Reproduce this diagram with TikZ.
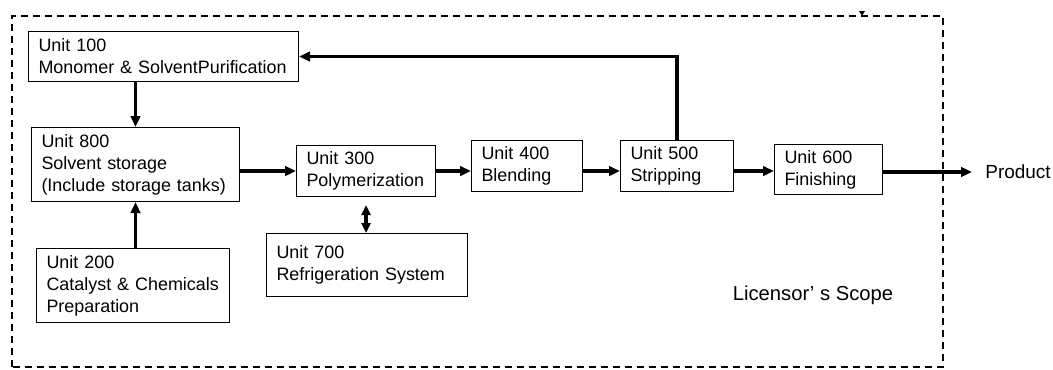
\documentclass[tikz,border=0pt]{standalone}
\usepackage{fontspec}
\setmainfont{Liberation Sans}
\usetikzlibrary{arrows.meta, positioning}
\tikzset{
  unit/.style = {draw=black, anchor=north west, align=left, inner xsep=0.2cm,
    inner ysep=0pt, line width=0.6pt, font=\fontsize{10.2}{12.5}\selectfont},
  lbl/.style = {font=\fontsize{10.8}{13}\selectfont, inner sep=0pt},
  flow/.style = {-{Triangle[length=0.22cm, width=0.19cm]}, line width=1.8pt},
  flowb/.style = {{Triangle[length=0.2cm, width=0.18cm]}-{Triangle[length=0.2cm, width=0.18cm]},
    line width=1.8pt},
  lic/.style = {draw=black, line width=0.6pt, dash pattern=on 0.14cm off 0.1cm}
}
\begin{document}
\begin{tikzpicture}
  \path[use as bounding box, fill=white] (0,0) rectangle (21.06,7.38);
  % licensor's scope border
  \draw[lic] (0.24,0.04) rectangle (18.86,7.06);
  \fill (17.18,7.16) -- (17.30,7.16) -- (17.24,7.06) -- cycle;

  \node[unit, text width=5.00cm, minimum height=1.00cm] (u100) at (0.56,6.76)
    {Unit 100\\Monomer \& SolventPurification};
  \node[unit, text width=3.76cm, minimum height=1.48cm] (u800) at (0.62,4.84)
    {Unit 800\\Solvent storage\\(Include storage tanks)};
  \node[unit, text width=3.46cm, minimum height=1.48cm] (u200) at (0.72,2.42)
    {Unit 200\\Catalyst \& Chemicals\\Preparation};
  \node[unit, text width=2.38cm, minimum height=1.02cm] (u300) at (5.92,4.48)
    {Unit 300\\Polymerization};
  \node[unit, text width=3.62cm, minimum height=1.26cm] (u700) at (5.32,2.72)
    {Unit 700\\Refrigeration System};
  \node[unit, text width=1.82cm, minimum height=1.02cm] (u400) at (9.42,4.58)
    {Unit 400\\Blending};
  \node[unit, text width=1.86cm, minimum height=1.02cm] (u500) at (12.40,4.58)
    {Unit 500\\Stripping};
  \node[unit, text width=1.76cm, minimum height=1.00cm] (u600) at (15.48,4.50)
    {Unit 600\\Finishing};
  \node[lbl, anchor=west, inner xsep=0.26cm] (prod) at (19.44,3.94) {Product};
  \node[lbl, font=\fontsize{11.5}{14}\selectfont] (scope) at (16.26,1.48) {Licensor’ s Scope};

  \draw[flow] (u100.south -| u800.north) -- (u800.north);
  \draw[flow] (u200.north -| u800.south) -- (u800.south);
  \draw[flow] (u800.east |- u300.west) -- (u300.west);
  \draw[flow] (u300.east) -- (u300.east -| u400.west);
  \draw[flow] (u400.east |- u300.east) -- (u500.west |- u300.east);
  \draw[flow] (u500.east |- u300.east) -- (u600.west |- u300.east);
  \draw[flow] (u600.east |- prod.west) -- (prod.west);
  \draw[flow] (u500.north) |- (u100.east);
  \draw[flowb, shorten <=0.16cm] (u300.south) -- (u300.south |- u700.north);
\end{tikzpicture}
\end{document}
